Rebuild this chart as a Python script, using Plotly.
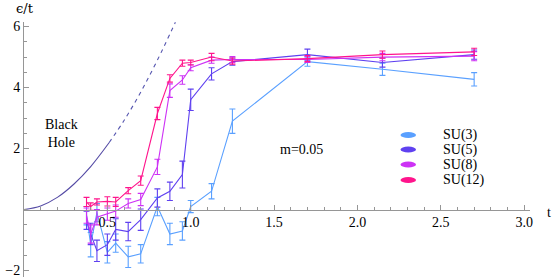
import plotly.graph_objects as go

# ---------------- data ----------------
t_vals = [0.375, 0.4, 0.4375, 0.5, 0.55, 0.625, 0.7, 0.8, 0.875, 0.95, 1.0, 1.125, 1.25, 1.7, 2.15, 2.7]

su3 = [-0.2, -1.15, -0.1, -1.4, -1.1, -1.55, -1.45, 0.1, -0.8, -0.7, 0.1, 0.6, 2.9, 4.85, 4.6, 4.27]
su3_err = [0.3, 0.4, 0.3, 0.35, 0.3, 0.35, 0.3, 0.3, 0.35, 0.3, 0.2, 0.25, 0.4, 0.15, 0.2, 0.22]

su5 = [-0.35, -0.8, -1.35, -1.15, -0.65, -0.72, -0.33, 0.38, 0.6, 1.15, 3.6, 4.45, 4.85, 5.08, 4.82, 5.08]
su5_err = [0.3, 0.35, 0.35, 0.35, 0.35, 0.3, 0.35, 0.3, 0.3, 0.44, 0.35, 0.2, 0.12, 0.18, 0.15, 0.15]

su8 = [-0.2, -0.8, -0.25, -0.15, -0.05, 0.2, 0.33, 1.4, 3.9, 4.25, 4.65, 4.9, 4.92, 4.92, 5.0, 5.03]
su8_err = [0.25, 0.3, 0.25, 0.2, 0.2, 0.15, 0.2, 0.25, 0.22, 0.14, 0.1, 0.1, 0.1, 0.1, 0.12, 0.15]

su12 = [0.25, 0.1, 0.25, 0.27, 0.25, 0.62, 0.95, 3.15, 4.3, 4.8, 4.82, 5.0, 4.87, 4.95, 5.08, 5.17]
su12_err = [0.15, 0.12, 0.1, 0.15, 0.15, 0.1, 0.15, 0.2, 0.12, 0.1, 0.08, 0.12, 0.1, 0.1, 0.12, 0.12]

bh_t_solid = [0.0, 0.1, 0.2, 0.3, 0.4, 0.51]
bh_e_solid = [0.0, 0.12, 0.4, 0.84, 1.41, 2.19]
bh_t_dash = [0.51, 0.6, 0.7, 0.8, 0.908]
bh_e_dash = [2.19, 2.92, 3.85, 4.9, 6.14]

series_names = ["SU(3)", "SU(5)", "SU(8)", "SU(12)"]
series_vals = [su3, su5, su8, su12]
series_errs = [su3_err, su5_err, su8_err, su12_err]
colors = ["rgb(90,160,255)", "rgb(95,65,240)", "rgb(205,50,245)", "rgb(255,20,140)"]

x_ticks = [0.5, 1.0, 1.5, 2.0, 2.5, 3.0]
x_ticktext = ["0.5", "1.0", "1.5", "2.0", "2.5", "3.0"]
y_ticks = [-2, 2, 4, 6]
y_ticktext = ["\u22122", "2", "4", "6"]

# ---------------- figure ----------------
FONT = "Liberation Serif"
W, H = 554, 278
ml, mr, mt, mb = 24, 24, 22, 1
xr = [0.0, 3.035]
yr = [-2.21, 6.15]

fig = go.Figure()

fig.add_trace(go.Scatter(x=bh_t_solid, y=bh_e_solid, mode="lines", line=dict(color="rgb(85,75,165)", width=1.1, shape="spline"), showlegend=False, hoverinfo="skip"))
fig.add_trace(go.Scatter(x=bh_t_dash, y=bh_e_dash, mode="lines", line=dict(color="rgb(85,85,175)", width=1.1, dash="4px,4px", shape="spline"), showlegend=False, hoverinfo="skip"))

for name, vals, errs, c in zip(series_names, series_vals, series_errs, colors):
    fig.add_trace(go.Scatter(
        x=t_vals, y=vals, mode="lines", name=name,
        line=dict(color=c, width=1.1),
        error_y=dict(type="data", array=errs, visible=True, color=c, thickness=1.1, width=3),
        showlegend=False,
    ))


def px_x(p):
    return (p - ml) / (W - ml - mr)


def px_y(p):
    return 1 - (p - mt) / (H - mt - mb)


# legend drawn as ellipses + text
leg_y_px = [135, 149.5, 164.5, 180]
for name, c, ypx in zip(series_names, colors, leg_y_px):
    fig.add_shape(type="circle", xref="paper", yref="paper",
                  x0=px_x(400.5), x1=px_x(416),
                  y0=px_y(ypx + 3), y1=px_y(ypx - 3),
                  fillcolor=c, line=dict(width=0))
    fig.add_annotation(xref="paper", yref="paper", x=px_x(441), y=px_y(ypx),
                       text=name, showarrow=False, xanchor="left", yanchor="middle",
                       font=dict(family=FONT, size=14, color="black"))

fig.add_annotation(xref="paper", yref="paper", x=px_x(301), y=px_y(149), text="m=0.05", showarrow=False,
                   font=dict(family=FONT, size=14, color="black"), xanchor="center", yanchor="middle")
fig.add_annotation(xref="paper", yref="paper", x=px_x(61), y=px_y(133), text="Black<br>Hole", showarrow=False,
                   font=dict(family=FONT, size=14, color="black"), xanchor="center", yanchor="middle", align="center")
fig.add_annotation(xref="paper", yref="paper", x=px_x(25), y=px_y(9), text="\u03f5/t", showarrow=False,
                   font=dict(family="DejaVu Serif", size=13, color="black"), xanchor="center", yanchor="middle")
fig.add_annotation(xref="paper", yref="paper", x=px_x(549), y=px_y(212), text="t", showarrow=False,
                   font=dict(family=FONT, size=14, color="black"), xanchor="center", yanchor="middle")

zero_pos = (0 - yr[0]) / (yr[1] - yr[0])

axis_color = "rgb(150,150,150)"
fig.update_layout(
    width=W, height=H,
    margin=dict(l=ml, r=mr, t=mt, b=mb, pad=0),
    paper_bgcolor="white", plot_bgcolor="white",
    showlegend=False,
    font=dict(family=FONT, size=14, color="black"),
    xaxis=dict(range=xr, anchor="free", position=zero_pos, showgrid=False, zeroline=False,
               showline=True, linecolor=axis_color, linewidth=1,
               tickmode="array", tickvals=x_ticks, ticktext=x_ticktext,
               ticks="inside", ticklen=5, tickcolor=axis_color, tickwidth=1,
               minor=dict(tickmode="linear", tick0=0, dtick=0.1, ticks="inside", ticklen=3, tickcolor=axis_color, tickwidth=1),
               tickfont=dict(family=FONT, size=14, color="black"), automargin=False,
               ticklabeloverflow="allow"),
    yaxis=dict(range=yr, showgrid=False, zeroline=False,
               showline=True, linecolor=axis_color, linewidth=1,
               tickmode="array", tickvals=y_ticks, ticktext=y_ticktext,
               ticks="inside", ticklen=5, tickcolor=axis_color, tickwidth=1,
               minor=dict(tickmode="linear", tick0=0, dtick=0.5, ticks="inside", ticklen=3, tickcolor=axis_color, tickwidth=1),
               tickfont=dict(family=FONT, size=14, color="black"), automargin=False,
               ticklabeloverflow="allow"),
)

fig.write_html("out.html", config={"displayModeBar": False},
               post_script="document.body.style.margin='0';document.body.style.overflow='hidden';")
